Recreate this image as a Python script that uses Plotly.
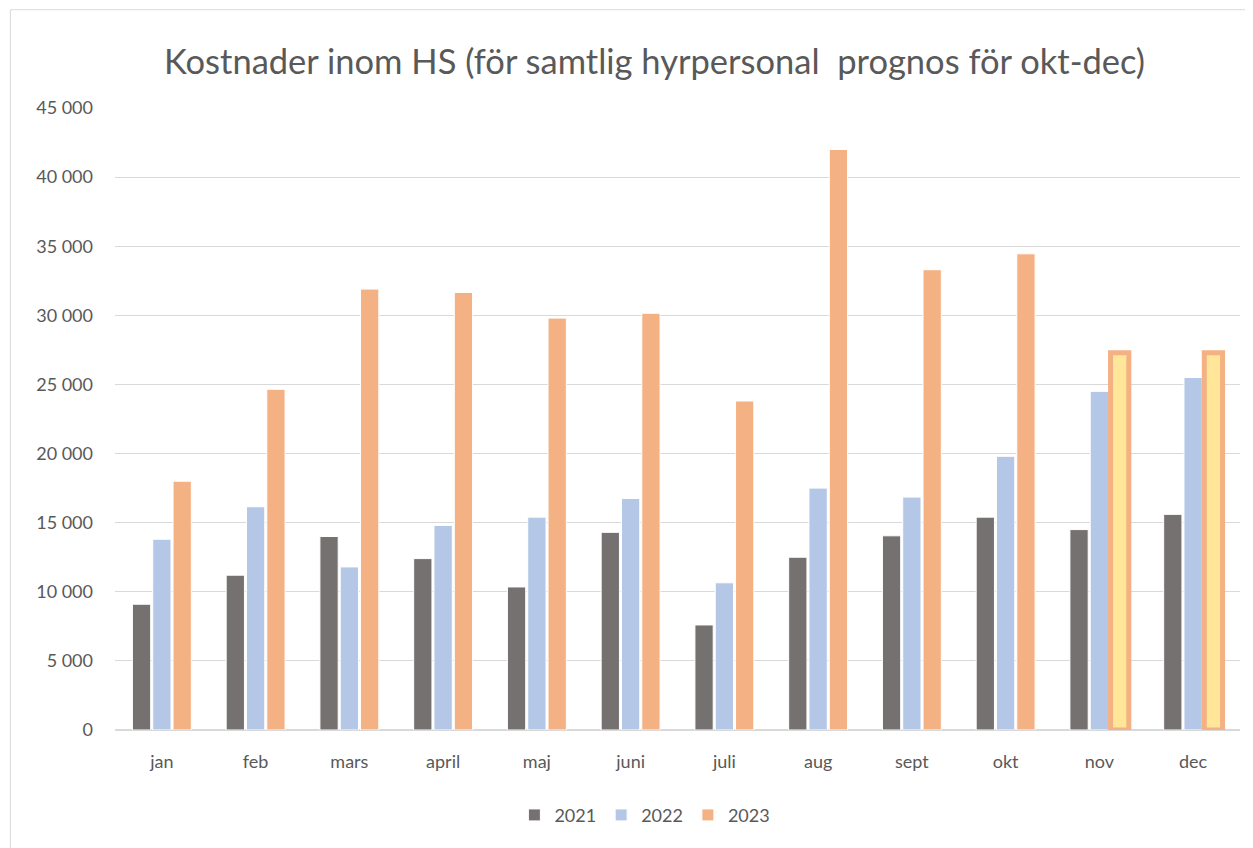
"""
Kostnader inom HS - stapeldiagram per månad och år.
"""
import plotly.graph_objects as go

months = ['jan', 'feb', 'mars', 'april', 'maj', 'juni',
          'juli', 'aug', 'sept', 'okt', 'nov', 'dec']
cost_2021 = [9100, 11200, 14000, 12400, 10350, 14300,
             7600, 12500, 14050, 15400, 14500, 15600]
cost_2022 = [13800, 16150, 11800, 14800, 15400, 16750,
             10650, 17500, 16850, 19800, 24500, 25500]
cost_2023 = [18000, 24650, 31900, 31650, 29800, 30150,
             23800, 42000, 33300, 34450, 27300, 27300]
forecast = [False] * 10 + [True, True]  # prognos för nov-dec

GREY = '#767171'
BLUE = '#B4C7E7'
ORANGE = '#F4B183'
YELLOW = '#FFE699'
TEXT = '#595959'
FONT = 'Lato, Open Sans, sans-serif'

fig = go.Figure()
fig.add_trace(go.Bar(x=months, y=cost_2021, name='2021',
                     marker=dict(color=GREY, line=dict(color='white', width=1))))
fig.add_trace(go.Bar(x=months, y=cost_2022, name='2022',
                     marker=dict(color=BLUE, line=dict(color='white', width=1))))
fig.add_trace(go.Bar(
    x=months, y=cost_2023, name='2023',
    marker=dict(
        color=[YELLOW if f else ORANGE for f in forecast],
        line=dict(color=[ORANGE if f else 'white' for f in forecast],
                  width=[5 if f else 1 for f in forecast]),
    ),
))

fig.update_layout(
    width=1253, height=848,
    paper_bgcolor='white', plot_bgcolor='white',
    font=dict(family=FONT, color=TEXT, size=17),
    title=dict(text='Kostnader inom HS (för samtlig hyrpersonal  prognos för okt-dec)',
               x=0.516, xanchor='center', y=0.936, yanchor='middle',
               font=dict(size=34.5, color=TEXT)),
    barmode='group', bargap=0.35, bargroupgap=0.1,
    margin=dict(l=107, r=21, t=100, b=126),
    legend=dict(orientation='h', x=0.471, xanchor='center', y=-0.137, yanchor='middle',
                font=dict(size=18, color=TEXT), traceorder='normal'),
    shapes=[dict(type='rect', xref='paper', yref='paper',
                 x0=-0.093, x1=1.007, y0=-0.3, y1=1.158,
                 line=dict(color='#D9D9D9', width=1))],
    separators=', ',
)
fig.update_yaxes(range=[0, 45000], dtick=5000, tickformat=',d',
                 showgrid=True, gridcolor='#D9D9D9',
                 gridwidth=1, zeroline=True, zerolinecolor='#D9D9D9',
                 ticks='', ticklabelstandoff=21,
                 tickfont=dict(size=18, color=TEXT))
fig.update_xaxes(showgrid=False, ticks='', tickfont=dict(size=18, color=TEXT),
                 ticklabelstandoff=19)

fig.write_html('out.html')
